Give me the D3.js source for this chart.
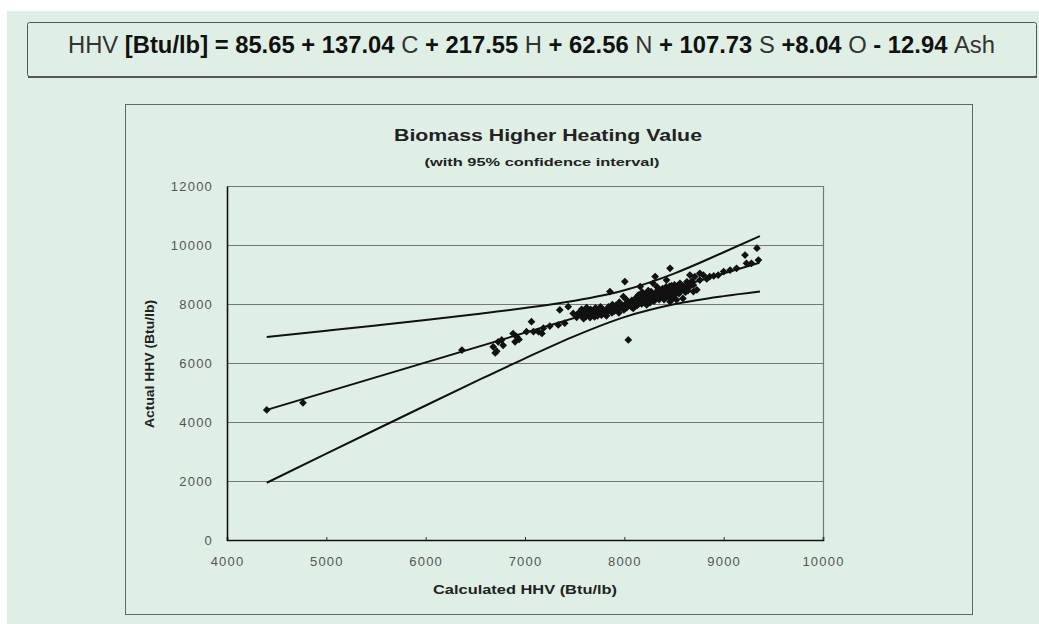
<!DOCTYPE html>
<html>
<head>
<meta charset="utf-8">
<script src="https://cdn.jsdelivr.net/npm/d3@7"></script>
<style>
  html, body { margin: 0; padding: 0; background: #ffffff; }
  svg { display: block; }
</style>
</head>
<body>
<svg id="chart" width="1039" height="624"></svg>
<script>
// ---- Data ----
const xTicks = [4000, 5000, 6000, 7000, 8000, 9000, 10000];
const yTicks = [0, 2000, 4000, 6000, 8000, 10000, 12000];

// measured samples: [calculated HHV, actual HHV]
const samples = [
  [4400,4410],[4765,4650],[6365,6440],
  [6680,6550],[6700,6340],[6715,6400],[6730,6720],[6765,6780],[6780,6600],[6880,7000],[6900,6720],[6915,6890],[6940,6800],
  [7015,7060],[7065,7400],[7085,7060],[7135,7060],[7170,7000],[7185,7180],[7250,7250],[7335,7290],[7350,7800],[7400,7350],
  [7435,7910],[7485,7680],[7520,7550],[7540,7700],[7560,7620],[7580,7750],[7590,7500],[7600,7680],[7615,7580],[7630,7760],
  [7640,7650],[7655,7540],[7670,7720],[7680,7620],[7695,7780],[7700,7560],[7715,7680],[7730,7600],[7745,7760],[7755,7700],
  [7770,7620],[7785,7820],[7800,7720],[7810,7650],[7825,7740],[7840,7900],[7855,8420],[7860,7800],[7875,7700],[7890,7850],
  [7900,7760],[7915,7950],[7930,7820],[7945,7700],[7960,7900],[7975,7910],[7990,8250],[7995,7800],[8005,8760],[8010,7990],
  [8025,7880],[8040,6780],[8045,8050],[8060,7950],[8075,8120],[8090,7850],[8100,8000],[8115,8200],[8130,7950],[8145,8080],
  [8160,8590],[8160,8150],[8175,8000],[8190,8250],[8200,8100],[8215,8350],[8225,7970],[8235,8180],[8250,8300],[8260,8050],
  [8270,8420],[8285,8200],[8290,8700],[8300,8100],[8310,8930],[8315,8350],[8325,8250],[8340,8480],[8350,8150],[8360,8380],
  [8370,8300],[8385,8520],[8395,8200],[8405,8400],[8415,8300],[8425,8810],[8430,8500],[8440,8250],[8455,8600],[8460,8080],
  [8460,9210],[8470,8400],[8480,8500],[8495,8300],[8505,8650],[8515,8450],[8525,8140],[8535,8550],[8550,8350],[8560,8700],
  [8575,8480],[8590,8190],[8600,8600],[8615,8400],[8630,8750],[8645,8550],[8660,8980],[8670,8650],[8695,8420],[8695,8640],
  [8710,8930],[8730,8480],[8760,8810],[8760,9040],[8795,8980],[8830,8850],[8860,8930],[8900,8950],[8945,8980],[9000,9100],
  [9065,9150],[9130,9210],[9215,9660],[9230,9380],[9280,9380],[9335,9890],[9350,9490],
  [7570,7820],[7620,7880],[7660,7820],[7710,7870],[7760,7900],[7820,7600],[7880,7980],[7950,8060],[8020,8150],[8070,7900],
  [8140,8300],[8180,8400],[8210,8180],[8240,8450],[8275,8320],[8330,8420],[8355,8260],[8380,8450],[8400,8150],[8420,8580],
  [8445,8380],[8475,8620],[8490,8200],[8520,8350],[8545,8480],[8570,8600],[8610,8520],[8640,8450],[8680,8780],[8330,8580]
];

const regressionX = [4400, 9360];
const regressionY = [4410, 9400];

const bandX      = [4400, 5000, 5500, 6000, 6500, 7000, 7500, 8000, 8500, 9000, 9365];
const upperBand  = [6880, 7094, 7275, 7460, 7653, 7861, 8108, 8465, 9031, 9753, 10300];
const lowerBand  = [1940, 2926, 3745, 4560, 5367, 6159, 6912, 7555, 7989, 8267, 8425];

const equationParts = [
  {t: "HHV ", b: false}, {t: "[Btu/lb] = 85.65 + 137.04 ", b: true}, {t: "C ", b: false},
  {t: "+ 217.55 ", b: true}, {t: "H ", b: false}, {t: "+ 62.56 ", b: true}, {t: "N ", b: false},
  {t: "+ 107.73 ", b: true}, {t: "S ", b: false}, {t: "+8.04 ", b: true}, {t: "O ", b: false},
  {t: "- 12.94 ", b: true}, {t: "Ash", b: false}
];

// ---- Drawing ----
const svg = d3.select("#chart");
const bg = "#e0efe6";
const font = "'Liberation Sans', Arial, sans-serif";

svg.append("rect").attr("x", 7).attr("y", 11).attr("width", 1032).attr("height", 613).attr("fill", bg);

// Equation box
svg.append("rect").attr("x", 27.5).attr("y", 22.5).attr("width", 1009).attr("height", 54)
  .attr("fill", bg).attr("stroke", "#555").attr("stroke-width", 1).attr("rx", 2);
svg.append("line").attr("x1", 28).attr("x2", 1037).attr("y1", 77).attr("y2", 77)
  .attr("stroke", "#555").attr("stroke-width", 2);

const eq = svg.append("text").attr("x", 68).attr("y", 53)
  .attr("font-family", font).attr("font-size", 23).attr("fill", "#1a1a1a")
  .attr("textLength", 927).attr("lengthAdjust", "spacingAndGlyphs");
eq.selectAll("tspan").data(equationParts).join("tspan")
  .attr("font-weight", d => d.b ? "bold" : "normal")
  .attr("fill", d => d.b ? "#111" : "#333")
  .text(d => d.t);

// Chart frame
svg.append("rect").attr("x", 125.5).attr("y", 104.5).attr("width", 847).attr("height", 510)
  .attr("fill", bg).attr("stroke", "#666").attr("stroke-width", 1);

// Scales
const x = d3.scaleLinear().domain([4000, 10000]).range([227, 823]);
const y = d3.scaleLinear().domain([0, 12000]).range([540, 186]);

// Gridlines
svg.append("g").selectAll("line").data(yTicks.filter(v => v > 0)).join("line")
  .attr("x1", x(4000)).attr("x2", x(10000))
  .attr("y1", d => y(d) + 0.5).attr("y2", d => y(d) + 0.5)
  .attr("stroke", "#777").attr("stroke-width", 1);

// Right border
svg.append("line").attr("x1", x(10000) + 0.5).attr("x2", x(10000) + 0.5)
  .attr("y1", y(12000)).attr("y2", y(0)).attr("stroke", "#777").attr("stroke-width", 1.2);

// Axes
const xAxis = d3.axisBottom(x).tickValues(xTicks).tickSize(-3).tickPadding(17).tickFormat(d3.format("d"));
const yAxis = d3.axisLeft(y).tickValues(yTicks).tickSize(0).tickPadding(14).tickFormat(d3.format("d"));

const gx = svg.append("g").attr("transform", `translate(0,${y(0)})`).call(xAxis);
const gy = svg.append("g").attr("transform", `translate(${x(4000)},0)`).call(yAxis);
[gx, gy].forEach(g => {
  g.select(".domain").attr("stroke", "#111").attr("stroke-width", 1.6);
  g.selectAll(".tick line").attr("stroke", "#333");
  g.selectAll(".tick text").attr("font-family", font).attr("font-size", 13)
    .attr("letter-spacing", "1.2px").attr("fill", "#555");
});

// Regression line
const line = d3.line().x(d => x(d[0])).y(d => y(d[1]));
svg.append("path").datum(regressionX.map((v, i) => [v, regressionY[i]]))
  .attr("d", line).attr("fill", "none").attr("stroke", "#111").attr("stroke-width", 2);

// Confidence bands
const curve = d3.line().x(d => x(d[0])).y(d => y(d[1])).curve(d3.curveMonotoneX);
[upperBand, lowerBand].forEach(band => {
  svg.append("path").datum(bandX.map((v, i) => [v, band[i]]))
    .attr("d", curve).attr("fill", "none").attr("stroke", "#111").attr("stroke-width", 2);
});

// Points
const sym = d3.symbol().type(d3.symbolSquare).size(30);
svg.append("g").selectAll("path").data(samples).join("path")
  .attr("d", sym)
  .attr("transform", d => `translate(${x(d[0])},${y(d[1])}) rotate(45)`)
  .attr("fill", "#111");

// Titles
svg.append("text").attr("x", 548).attr("y", 141).attr("text-anchor", "middle")
  .attr("font-family", font).attr("font-weight", "bold").attr("font-size", 16)
  .attr("fill", "#222").attr("textLength", 308).attr("lengthAdjust", "spacingAndGlyphs")
  .text("Biomass Higher Heating Value");
svg.append("text").attr("x", 542).attr("y", 166).attr("text-anchor", "middle")
  .attr("font-family", font).attr("font-weight", "bold").attr("font-size", 10.5)
  .attr("fill", "#222").attr("textLength", 235).attr("lengthAdjust", "spacingAndGlyphs")
  .text("(with 95% confidence interval)");

svg.append("text").attr("x", 525).attr("y", 594).attr("text-anchor", "middle")
  .attr("font-family", font).attr("font-weight", "bold").attr("font-size", 12)
  .attr("fill", "#222").attr("textLength", 184).attr("lengthAdjust", "spacingAndGlyphs")
  .text("Calculated HHV (Btu/lb)");

svg.append("text").attr("transform", "translate(154,364) rotate(-90)").attr("text-anchor", "middle")
  .attr("font-family", font).attr("font-weight", "bold").attr("font-size", 12.5)
  .attr("fill", "#222").attr("textLength", 128).attr("lengthAdjust", "spacingAndGlyphs")
  .text("Actual HHV (Btu/lb)");
</script>
</body>
</html>
